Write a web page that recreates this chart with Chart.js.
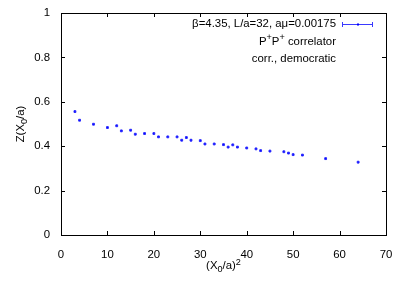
<!DOCTYPE html>
<html>
<head>
<meta charset="utf-8">
<script src="https://cdn.jsdelivr.net/npm/chart.js@4"></script>
<style>
  html, body { margin: 0; padding: 0; background: #fff; }
  #wrap { width: 403px; height: 283px; }
</style>
</head>
<body>
<div id="wrap"><canvas id="chart" width="403" height="283"></canvas></div>
<script>
  "use strict";

  // (X0/a)^2 and Z(X0/a)
  var xVals = [3, 4, 7, 10, 12, 13, 15, 16, 18, 20, 21, 23, 25, 26, 27, 28, 30,
               31, 33, 35, 36, 37, 38, 40, 42, 43, 45, 48, 49, 50, 52, 57, 64];
  var zVals = [0.556, 0.517, 0.499, 0.484, 0.492, 0.469, 0.472, 0.454, 0.457, 0.457, 0.442,
               0.442, 0.442, 0.427, 0.439, 0.427, 0.425, 0.410, 0.410, 0.407, 0.396, 0.406,
               0.396, 0.392, 0.388, 0.380, 0.378, 0.375, 0.369, 0.362, 0.360, 0.344, 0.328];
  var xTicks = [0, 10, 20, 30, 40, 50, 60, 70];
  var yTicks = [0, 0.2, 0.4, 0.6, 0.8, 1];
  var legendLines = ["β=4.35, L/a=32, aμ=0.00175"];
  var noteLines = [
    [{ t: "P" }, { t: "+", sup: true }, { t: "P" }, { t: "+", sup: true }, { t: " correlator" }],
    [{ t: "corr., democratic" }]
  ];

  var FONT = "'Liberation Sans', Arial, sans-serif";
  var FS = 11.4;
  var BLUE = "#0000ff";

  // text with small raised/lowered pieces, like gnuplot enhanced text
  function richWidth(ctx, parts, size) {
    var w = 0;
    parts.forEach(function (p) {
      ctx.font = ((p.sup || p.sub) ? size * 0.8 : size) + "px " + FONT;
      w += ctx.measureText(p.t).width;
    });
    return w;
  }

  function drawRich(ctx, parts, x, y, size, align) {
    var w = richWidth(ctx, parts, size);
    var cx = align === "right" ? x - w : align === "center" ? x - w / 2 : x;
    ctx.textBaseline = "middle";
    ctx.textAlign = "left";
    parts.forEach(function (p) {
      var s = (p.sup || p.sub) ? size * 0.8 : size;
      ctx.font = s + "px " + FONT;
      var dy = p.sup ? -size * 0.35 : p.sub ? size * 0.3 : 0;
      ctx.fillText(p.t, cx, y + dy);
      cx += ctx.measureText(p.t).width;
    });
  }

  var framePlugin = {
    id: "frame",
    afterDraw: function (chart) {
      var ctx = chart.ctx;
      var a = chart.chartArea;
      var xs = chart.scales.x, ys = chart.scales.y;
      ctx.save();
      ctx.strokeStyle = "#000";
      ctx.lineWidth = 1;
      ctx.strokeRect(Math.round(a.left) + 0.5, Math.round(a.top) + 0.5,
        Math.round(a.right - a.left), Math.round(a.bottom - a.top));

      // inward ticks on all four sides
      var tl = 4;
      ctx.beginPath();
      xTicks.forEach(function (v) {
        var px = Math.round(xs.getPixelForValue(v)) + 0.5;
        ctx.moveTo(px, a.bottom); ctx.lineTo(px, a.bottom - tl);
        ctx.moveTo(px, a.top); ctx.lineTo(px, a.top + tl);
      });
      yTicks.forEach(function (v) {
        var py = Math.round(ys.getPixelForValue(v)) + 0.5;
        ctx.moveTo(a.left, py); ctx.lineTo(a.left + tl, py);
        ctx.moveTo(a.right, py); ctx.lineTo(a.right - tl, py);
      });
      ctx.stroke();

      ctx.fillStyle = "#000";
      // axis titles
      drawRich(ctx, [{ t: "(X" }, { t: "0", sub: true }, { t: "/a)" }, { t: "2", sup: true }],
        (a.left + a.right) / 2, 266, FS, "center");
      ctx.save();
      ctx.translate(21, (a.top + a.bottom) / 2);
      ctx.rotate(-Math.PI / 2);
      drawRich(ctx, [{ t: "Z(X" }, { t: "0", sub: true }, { t: "/a)" }], 0, 0, FS, "center");
      ctx.restore();

      // key: label, errorbar sample, and the two note lines
      var keyRight = 336, keyY = 24;
      drawRich(ctx, [{ t: legendLines[0] }], keyRight, keyY, FS, "right");
      noteLines.forEach(function (parts, i) {
        drawRich(ctx, parts, keyRight, keyY + 17.5 * (i + 1), FS, "right");
      });
      ctx.strokeStyle = "#3a3aff";
      ctx.beginPath();
      ctx.moveTo(342, keyY + 0.5); ctx.lineTo(373, keyY + 0.5);
      ctx.moveTo(342.5, keyY - 2); ctx.lineTo(342.5, keyY + 3);
      ctx.moveTo(372.5, keyY - 2); ctx.lineTo(372.5, keyY + 3);
      ctx.stroke();
      ctx.fillStyle = BLUE;
      ctx.fillRect(357, keyY - 0.5, 2, 2);
      ctx.restore();
    }
  };

  var points = xVals.map(function (x, i) { return { x: x, y: zVals[i] }; });

  new Chart(document.getElementById("chart"), {
    type: "scatter",
    data: {
      datasets: [{
        label: legendLines[0],
        data: points,
        pointStyle: "rect",
        pointRadius: 1.3,
        pointBorderWidth: 1,
        backgroundColor: BLUE,
        borderColor: "#2a2aff"
      }]
    },
    options: {
      responsive: false,
      animation: false,
      layout: { padding: { top: 13, right: 17, left: 0, bottom: 0 } },
      plugins: { legend: { display: false }, tooltip: { enabled: false } },
      scales: {
        x: {
          type: "linear",
          min: 0, max: 70,
          afterFit: function (s) { s.height = 48; },
          afterBuildTicks: function (s) { s.ticks = xTicks.map(function (v) { return { value: v }; }); },
          grid: { display: false },
          border: { display: false },
          ticks: {
            color: "#000", padding: 5, maxRotation: 0, font: { family: FONT, size: FS },
            callback: function (v) { return String(v); }
          }
        },
        y: {
          type: "linear",
          min: 0, max: 1,
          afterFit: function (s) { s.width = 61; },
          afterBuildTicks: function (s) { s.ticks = yTicks.map(function (v) { return { value: v }; }); },
          grid: { display: false },
          border: { display: false },
          ticks: {
            color: "#000", padding: 3, font: { family: FONT, size: FS },
            callback: function (v) { return String(v); }
          }
        }
      }
    },
    plugins: [framePlugin]
  });
</script>
</body>
</html>
